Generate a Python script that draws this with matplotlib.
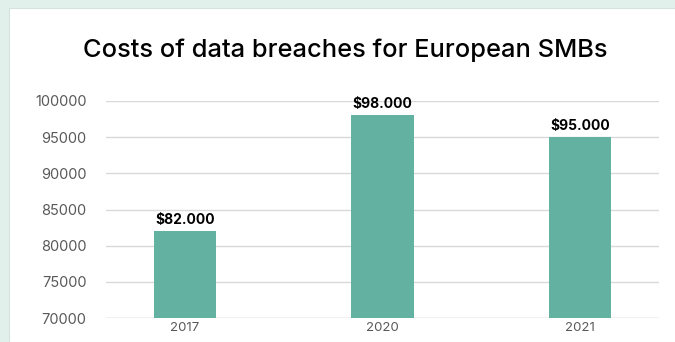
import matplotlib.pyplot as plt
from matplotlib.patches import Rectangle

years = ['2017', '2020', '2021']
costs = [82000, 98000, 95000]
labels = ['$82.000', '$98.000', '$95.000']
yticks = [70000, 75000, 80000, 85000, 90000, 95000, 100000]

plt.rcParams['font.family'] = ['Inter', 'DejaVu Sans']

fig = plt.figure(figsize=(6.75, 3.42), dpi=100)
fig.patch.set_facecolor('#e2f0ec')
# white card behind the chart
fig.patches.append(Rectangle((9 / 675, 0), 1, 1 - 8 / 342, transform=fig.transFigure,
                             facecolor='white', edgecolor='#d5e2de', linewidth=0.8, zorder=-5))

ax = fig.add_axes([106 / 675, 1 - 318 / 342, 553 / 675, 217 / 342])
ax.set_facecolor('none')
ax.set_zorder(2)

x = range(len(years))
ax.bar(x, costs, width=0.314, color='#63b1a0', zorder=3)
for i, (v, t) in enumerate(zip(costs, labels)):
    ax.text(i, v + 600, t, ha='center', va='bottom', fontsize=10, fontweight='bold', color='black')

ax.set_ylim(70000, 100000)
ax.set_xlim(-0.4, 2.4)
ax.set_yticks(yticks)
ax.set_xticks(list(x))
ax.set_xticklabels(years)
ax.yaxis.grid(True, color='#d9d9d9', linewidth=1)
ax.set_axisbelow(True)
for s in ax.spines.values():
    s.set_visible(False)
ax.tick_params(axis='both', length=0, colors='#595959')
ax.tick_params(axis='y', labelsize=10.5, pad=14)
ax.tick_params(axis='x', labelsize=9.5, pad=3)
ax.axhline(70000, color='#d9d9d9', linewidth=1, zorder=1)

fig.text(345 / 675, 1 - 50 / 342, 'Costs of data breaches for European SMBs',
         ha='center', va='center', fontsize=18.3, fontweight='medium', color='black', zorder=3)

fig.savefig('out.png', dpi=100, facecolor=fig.get_facecolor())
